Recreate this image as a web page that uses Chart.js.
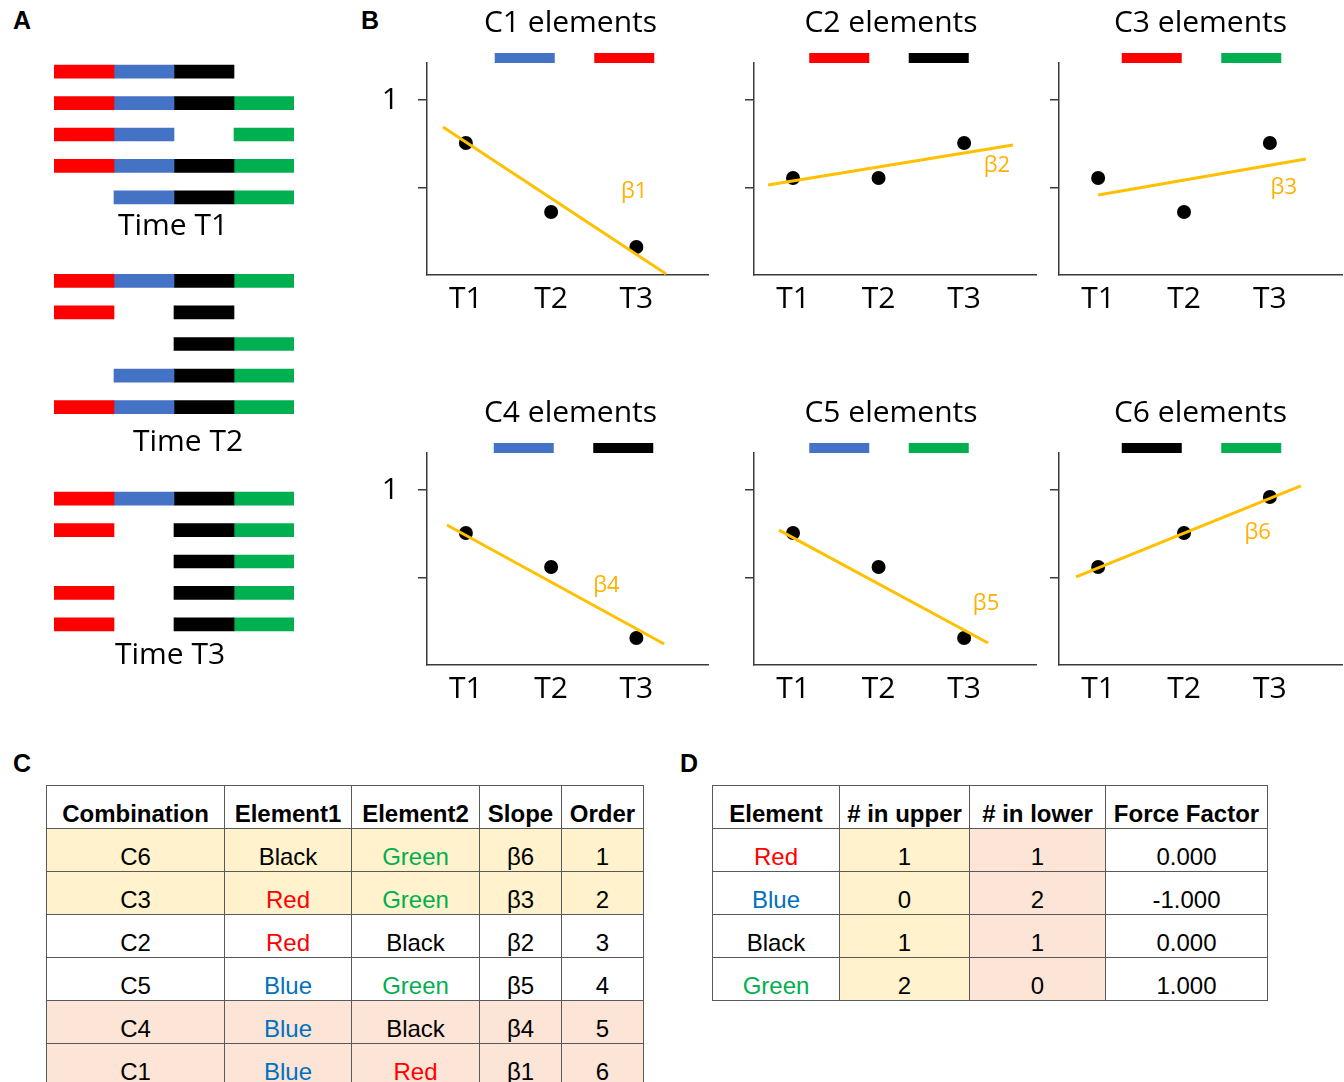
<!DOCTYPE html>
<html><head><meta charset="utf-8">
<script src="https://cdn.jsdelivr.net/npm/chart.js@4.4.1/dist/chart.umd.min.js"></script>
<style>
html,body{margin:0;padding:0;background:#fff;}
body{width:1344px;height:1082px;position:relative;overflow:hidden;font-family:'Liberation Sans',Arial,sans-serif;}
.box{position:absolute;}
.box canvas{display:block;}
.plabel{position:absolute;font-weight:bold;font-size:25px;line-height:1;color:#000;font-family:'Liberation Sans',Arial,sans-serif;}
table.tbl{position:absolute;border-collapse:collapse;font-size:24px;table-layout:fixed;color:#000;}
table.tbl td,table.tbl th{border:1.5px solid #595959;text-align:center;vertical-align:bottom;padding:0 0 1px 0;line-height:1.1;white-space:nowrap;overflow:hidden;}
table.tbl tr{height:43px;}
table.tbl th{font-weight:bold;}
</style></head><body>
<div class="plabel" style="left:13px;top:8px;">A</div>
<div class="plabel" style="left:361px;top:8px;">B</div>
<div class="plabel" style="left:13px;top:751px;">C</div>
<div class="plabel" style="left:680px;top:751px;">D</div>
<script>
// ---------- DATA ----------
// Panel A: element order and presence (1 = present) per row at each time
const elementNames = ['Red', 'Blue', 'Black', 'Green'];
const elementSlots = [[0, 1], [1, 2], [2, 3], [3, 4]];
const rowLabels = ['1', '2', '3', '4', '5'];
const timeT1Rows = [[1,1,1,0],[1,1,1,1],[1,1,0,1],[1,1,1,1],[0,1,1,1]];
const timeT2Rows = [[1,1,1,1],[1,0,1,0],[0,0,1,1],[0,1,1,1],[1,1,1,1]];
const timeT3Rows = [[1,1,1,1],[1,0,1,1],[0,0,1,1],[1,0,1,1],[1,0,1,1]];
const timeTitles = ['Time T1', 'Time T2', 'Time T3'];

// Panel B
const timeLabels = ['T1', 'T2', 'T3'];
const timeValues = [1, 2, 3];
const combos = ['C1', 'C2', 'C3', 'C4', 'C5', 'C6'];
const comboElements = [['Blue','Red'],['Red','Black'],['Red','Green'],['Blue','Black'],['Blue','Green'],['Black','Green']];
const c1Values = [0.754, 0.36, 0.16];
const c2Values = [0.554, 0.554, 0.754];
const c3Values = [0.554, 0.36, 0.754];
const c4Values = [0.754, 0.56, 0.154];
const c5Values = [0.754, 0.56, 0.154];
const c6Values = [0.56, 0.754, 0.96];
const c1Fit = [[0.731, 0.846], [3.349, 0.006]];
const c2Fit = [[0.708, 0.514], [3.571, 0.743]];
const c3Fit = [[1.0, 0.457], [3.419, 0.663]];
const c4Fit = [[0.778, 0.8], [3.326, 0.12]];
const c5Fit = [[0.836, 0.771], [3.279, 0.126]];
const c6Fit = [[0.743, 0.503], [3.361, 1.023]];
const slopeLabels = ['β1', 'β2', 'β3', 'β4', 'β5', 'β6'];
const slopeLabelAt = [[2.975, 0.474], [3.384, 0.623], [3.162, 0.497], [2.648, 0.451], [3.256, 0.349], [2.858, 0.754]];
const yTickValues = [0.5, 1];
const yTickLabels = ['', '1'];

// Panel C
const tableCHeaders = ['Combination', 'Element1', 'Element2', 'Slope', 'Order'];
const tableCombination = ['C6', 'C3', 'C2', 'C5', 'C4', 'C1'];
const tableElement1 = ['Black', 'Red', 'Red', 'Blue', 'Blue', 'Blue'];
const tableElement2 = ['Green', 'Green', 'Black', 'Green', 'Black', 'Red'];
const tableSlope = ['β6', 'β3', 'β2', 'β5', 'β4', 'β1'];
const tableOrder = ['1', '2', '3', '4', '5', '6'];

// Panel D
const tableDHeaders = ['Element', '# in upper', '# in lower', 'Force Factor'];
const forceElements = ['Red', 'Blue', 'Black', 'Green'];
const inUpper = ['1', '0', '1', '2'];
const inLower = ['1', '2', '1', '0'];
const forceFactor = ['0.000', '-1.000', '0.000', '1.000'];

// ---------- STYLE ----------
const barColors = {Red: '#FF0000', Blue: '#4472C4', Black: '#000000', Green: '#00B050'};
const textColors = {Red: '#FF0000', Blue: '#0070C0', Black: '#000000', Green: '#00B050'};
const FIT_COLOR = '#FFC000';
const LABEL_COLOR = '#FFB000';
const AXIS_COLOR = '#3a3a3a';
const UPPER_FILL = '#FFF2CC';
const LOWER_FILL = '#FCE4D6';
const CHART_FONT = "'Open Sans', 'Noto Sans', sans-serif";

Chart.defaults.font.family = CHART_FONT;
Chart.defaults.color = '#000';
Chart.defaults.animation = false;

function makeCanvas(left, top, w, h) {
  const d = document.createElement('div');
  d.className = 'box';
  d.style.left = left + 'px'; d.style.top = top + 'px';
  d.style.width = w + 'px'; d.style.height = h + 'px';
  const c = document.createElement('canvas');
  c.width = w; c.height = h;
  c.style.width = w + 'px'; c.style.height = h + 'px';
  d.appendChild(c);
  document.body.appendChild(d);
  return c;
}

const shiftPlugin = {
  id: 'boxShift',
  afterLayout(chart, args, opts) {
    if (opts.legendDx && chart.legend) { chart.legend.left += opts.legendDx; chart.legend.right += opts.legendDx; }
    if (opts.titleDx && chart.titleBlock) { chart.titleBlock.left += opts.titleDx; chart.titleBlock.right += opts.titleDx; }
  }
};

const slopeLabelPlugin = {
  id: 'slopeLabel',
  afterDatasetsDraw(chart, args, opts) {
    if (!opts || !opts.text) return;
    const {ctx} = chart;
    const xs = chart.scales.x, ys = chart.scales.y;
    ctx.save();
    ctx.font = '22px ' + CHART_FONT;
    ctx.fillStyle = LABEL_COLOR;
    ctx.textAlign = 'center';
    ctx.textBaseline = 'middle';
    ctx.fillText(opts.text, xs.getPixelForValue(opts.x), ys.getPixelForValue(opts.y));
    ctx.restore();
  }
};

// ---------- PANEL A ----------
function timeChart(rows, title, left, top, width, height, padTop, titlePadTop) {
  const canvas = makeCanvas(left, top, width, height);
  const datasets = elementNames.map((name, e) => ({
    label: name,
    data: rows.map(r => r[e] ? elementSlots[e] : null),
    backgroundColor: barColors[name],
    borderWidth: 0,
    barThickness: 13,
    grouped: false
  }));
  new Chart(canvas, {
    type: 'bar',
    data: {labels: rowLabels, datasets},
    options: {
      indexAxis: 'y', responsive: false, animation: false,
      layout: {padding: {top: padTop, left: 0, right: 0, bottom: 0}},
      plugins: {
        legend: {display: false}, tooltip: {enabled: false},
        title: {display: true, position: 'bottom', text: title, color: '#000',
                font: {size: 30, lineHeight: 0.9, weight: 'normal'}, padding: {top: titlePadTop, bottom: 0}}
      },
      scales: {
        x: {type: 'linear', min: 0, max: 4, display: false},
        y: {type: 'category', position: 'left', display: true,
            ticks: {display: false}, grid: {display: false, drawTicks: false}, border: {display: false},
            afterFit: s => { s.width = 54; }},
        yR: {type: 'linear', position: 'right', display: true,
             ticks: {display: false}, grid: {display: false, drawTicks: false}, border: {display: false},
             afterFit: s => { s.width = width - 294; }}
      }
    }
  });
}
timeChart(timeT1Rows, timeTitles[0], 0, 46, 346, 194, 10, 0);
timeChart(timeT2Rows, timeTitles[1], 0, 255, 376, 201, 10, 6);
timeChart(timeT3Rows, timeTitles[2], 0, 473, 340, 196, 10, 2);

// ---------- PANEL B ----------
const comboValues = [c1Values, c2Values, c3Values, c4Values, c5Values, c6Values];
const comboFits = [c1Fit, c2Fit, c3Fit, c4Fit, c5Fit, c6Fit];
const bLayout = [
  {left: 370, top: 0, w: 345, padR: 1, yLab: true, legendDx: 10, titleDx: 3},
  {left: 697, top: 0, w: 346, padR: 1, yLab: false, legendDx: -3, titleDx: -4},
  {left: 1002, top: 0, w: 347, padR: 4, yLab: false, legendDx: 4, titleDx: 0},
  {left: 370, top: 390, w: 345, padR: 1, yLab: true, legendDx: 9, titleDx: 3},
  {left: 697, top: 390, w: 346, padR: 1, yLab: false, legendDx: -3, titleDx: -4},
  {left: 1002, top: 390, w: 347, padR: 4, yLab: false, legendDx: 4, titleDx: 0}
];
const X_MIN = 0.544, X_MAX = 3.84, Y_MAX = 1.2114;

function comboChart(i) {
  const L = bLayout[i];
  const canvas = makeCanvas(L.left, L.top, L.w, 320);
  const els = comboElements[i];
  new Chart(canvas, {
    type: 'scatter',
    data: {
      datasets: [
        {label: 'fit', data: comboFits[i].map(p => ({x: p[0], y: p[1]})), showLine: true,
         borderColor: FIT_COLOR, backgroundColor: FIT_COLOR, borderWidth: 3, pointRadius: 0},
        {label: combos[i], data: timeValues.map((t, k) => ({x: t, y: comboValues[i][k]})),
         pointRadius: 7, backgroundColor: '#000', borderColor: '#000', borderWidth: 0}
      ]
    },
    options: {
      responsive: false, animation: false,
      layout: {padding: {top: 0, right: L.padR, bottom: 0, left: 0}},
      plugins: {
        tooltip: {enabled: false},
        title: {display: true, text: combos[i] + ' elements', color: '#000', fullSize: false,
                font: {size: 30, lineHeight: 1.2, weight: 'normal'}, padding: {top: 5, bottom: -21.5}},
        legend: {display: true, fullSize: false, maxHeight: 43.5, onClick: null,
          labels: {boxWidth: 60, boxHeight: 13, padding: 33.5, font: {size: 12},
            generateLabels: () => els.map(e => ({text: '', fillStyle: barColors[e], strokeStyle: barColors[e], lineWidth: 0, hidden: false}))}},
        slopeLabel: {text: slopeLabels[i], x: slopeLabelAt[i][0], y: slopeLabelAt[i][1]},
        boxShift: {legendDx: L.legendDx, titleDx: L.titleDx}
      },
      scales: {
        x: {type: 'linear', min: X_MIN, max: X_MAX,
            afterBuildTicks: s => { s.ticks = timeValues.map(v => ({value: v})); },
            ticks: {callback: v => timeLabels[timeValues.indexOf(v)], font: {size: 30}, padding: 6, color: '#000', maxRotation: 0, autoSkip: false},
            grid: {display: false, drawTicks: false},
            border: {display: true, color: AXIS_COLOR, width: 1.5},
            afterFit: s => { s.height = 45; }},
        y: {type: 'linear', min: 0, max: Y_MAX,
            afterBuildTicks: s => { s.ticks = yTickValues.map(v => ({value: v})); },
            ticks: {callback: v => L.yLab ? yTickLabels[yTickValues.indexOf(v)] : '', font: {size: 30}, padding: 19, color: '#000'},
            grid: {drawOnChartArea: false, drawTicks: true, tickLength: 9, color: AXIS_COLOR, lineWidth: 1.5},
            border: {display: true, color: AXIS_COLOR, width: 1.5},
            afterFit: s => { s.width = 57; }}
      }
    },
    plugins: [slopeLabelPlugin, shiftPlugin]
  });
}
combos.forEach((c, i) => comboChart(i));

// ---------- TABLES ----------
function cell(text, color, fill) {
  return '<td style="' + (color ? 'color:' + color + ';' : '') + (fill ? 'background:' + fill + ';' : '') + '">' + text + '</td>';
}
function buildTable(left, top, widths, headers, rowsHtml) {
  const t = document.createElement('table');
  t.className = 'tbl';
  t.style.left = left + 'px'; t.style.top = top + 'px';
  t.style.width = widths.reduce((a, b) => a + b, 0) + 'px';
  let h = '<colgroup>' + widths.map(w => '<col style="width:' + w + 'px">').join('') + '</colgroup>';
  h += '<tr>' + headers.map(x => '<th>' + x + '</th>').join('') + '</tr>';
  h += rowsHtml.join('');
  t.innerHTML = h;
  document.body.appendChild(t);
}
const cRows = tableCombination.map((c, r) => {
  const fill = r < 2 ? UPPER_FILL : (r >= tableCombination.length - 2 ? LOWER_FILL : null);
  return '<tr>' + cell(c, null, fill) + cell(tableElement1[r], textColors[tableElement1[r]], fill) +
    cell(tableElement2[r], textColors[tableElement2[r]], fill) + cell(tableSlope[r], null, fill) +
    cell(tableOrder[r], null, fill) + '</tr>';
});
buildTable(46, 785, [178, 127, 128, 82, 82], tableCHeaders, cRows);
const dRows = forceElements.map((e, r) =>
  '<tr>' + cell(e, textColors[e], null) + cell(inUpper[r], null, UPPER_FILL) +
  cell(inLower[r], null, LOWER_FILL) + cell(forceFactor[r], null, null) + '</tr>');
buildTable(712, 785, [127, 130, 136, 162], tableDHeaders, dRows);
</script>
</body></html>
